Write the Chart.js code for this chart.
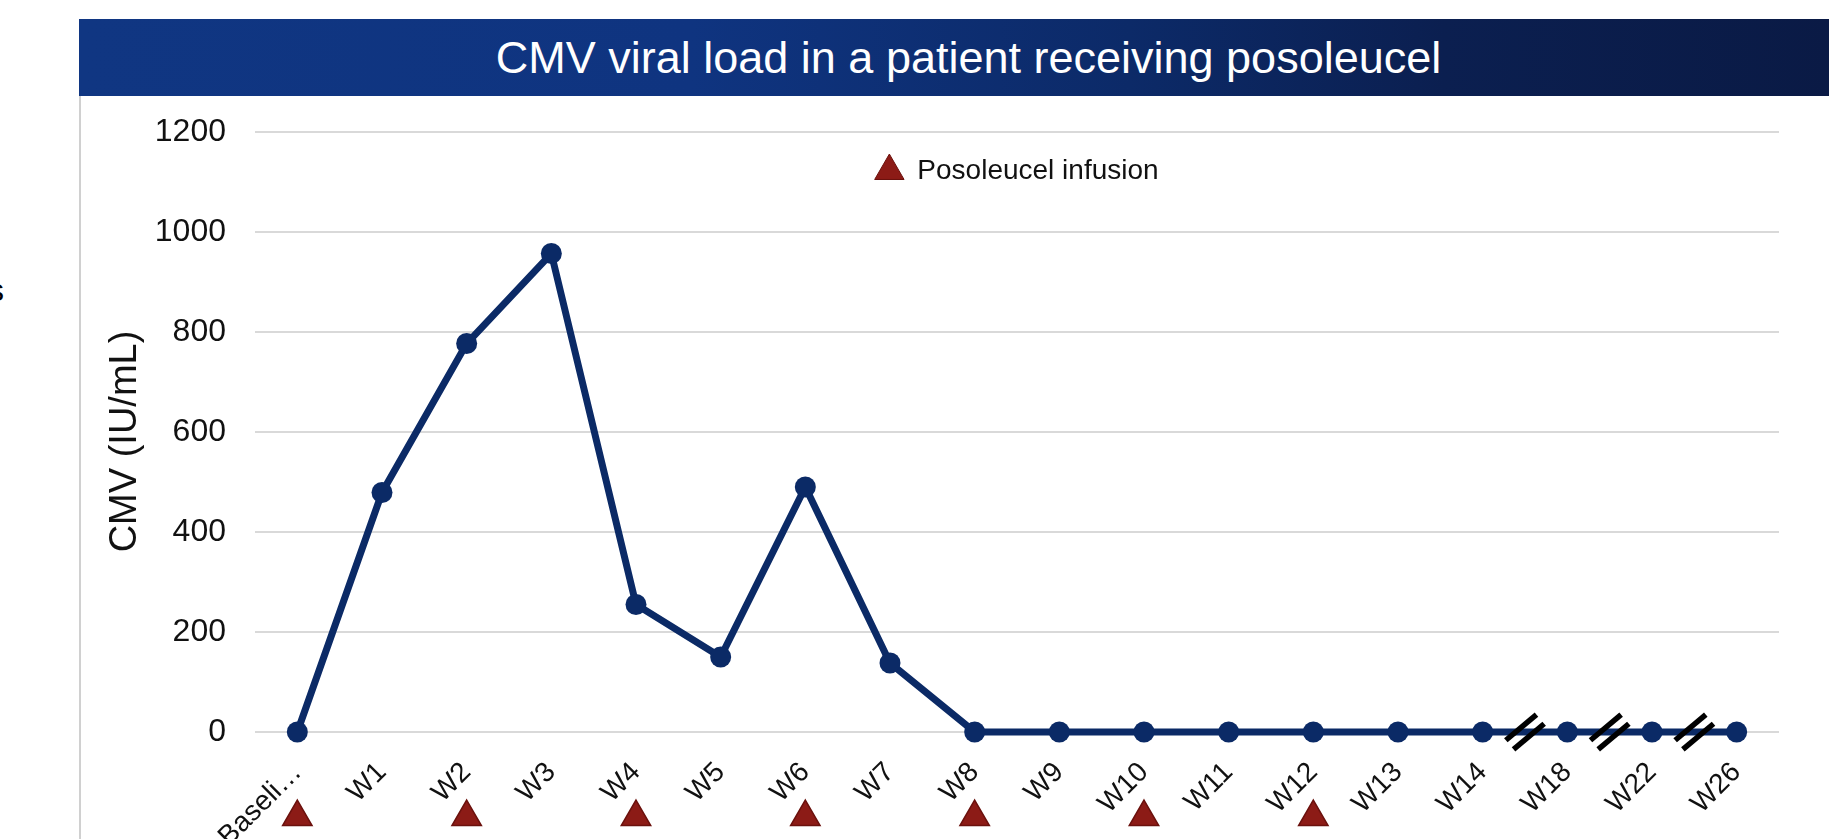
<!DOCTYPE html>
<html>
<head>
<meta charset="utf-8">
<title>CMV viral load</title>
<script src="https://cdn.jsdelivr.net/npm/chart.js@4.4.0/dist/chart.umd.min.js"></script>
<style>
  html, body { margin: 0; padding: 0; background: #fff; }
  body { width: 1829px; height: 839px; position: relative; overflow: hidden; font-family: "Liberation Sans", Arial, sans-serif; }
  #header {
    position: absolute; left: 79px; top: 19px; width: 1750px; height: 77px;
    box-sizing: border-box; padding-left: 29px;
    background: linear-gradient(90deg, #103682 0%, #0f3480 35%, #0c2a68 60%, #0b1f50 78%, #0a1a45 100%);
    color: #fff; font-size: 45px; line-height: 77px; text-align: center;
  }
  #frame { position: absolute; left: 79px; top: 96px; width: 2px; height: 743px; background: #d0d0d0; }
  #cut { position: absolute; left: -12px; top: 272px; font-size: 32px; color: #000; }
  canvas { position: absolute; left: 0; top: 0; }
</style>
</head>
<body>
<div id="header">CMV viral load in a patient receiving posoleucel</div>
<div id="frame"></div>
<div id="cut">s</div>
<canvas id="myChart" width="1829" height="839"></canvas>
<script>
  const weeks = ["Baseline", "W1", "W2", "W3", "W4", "W5", "W6", "W7", "W8", "W9",
    "W10", "W11", "W12", "W13", "W14", "W18", "W22", "W26"];
  const cmvLoad = [0, 479, 777, 957, 255, 150, 490, 138, 0, 0, 0, 0, 0, 0, 0, 0, 0, 0];
  const infusionWeeks = ["Baseline", "W2", "W4", "W6", "W8", "W10", "W12"];
  // axis breaks sit between these weeks and the next one
  const breakAfter = ["W14", "W18", "W22"];

  const lineColor = "#0b2a66";
  const triFill = "#8c1b16";
  const triEdge = "#6b110d";

  function drawTriangle(ctx, cx, cy, r) {
    ctx.beginPath();
    ctx.moveTo(cx, cy - r);
    ctx.lineTo(cx + 0.866 * r, cy + 0.5 * r);
    ctx.lineTo(cx - 0.866 * r, cy + 0.5 * r);
    ctx.closePath();
    ctx.fillStyle = triFill;
    ctx.fill();
    ctx.lineWidth = 1.5;
    ctx.strokeStyle = triEdge;
    ctx.stroke();
  }

  const markers = {
    id: "markers",
    afterLayout(chart) {
      // move the legend inside the plot, centred under the top gridline
      const lg = chart.legend;
      const hb = lg.legendHitBoxes[0];
      const pad = lg.options.labels.padding;
      const area = chart.chartArea;
      const w = lg.right - lg.left, h = lg.bottom - lg.top;
      lg.left = (area.left + area.right) / 2 - hb.width / 2 - pad;
      lg.top = area.top + 39 - hb.height / 2 - pad;
      lg.right = lg.left + w;
      lg.bottom = lg.top + h;
    },
    afterDraw(chart) {
      const { ctx, scales: { x, y } } = chart;
      ctx.save();
      // infusion triangles under the week labels
      infusionWeeks.forEach((w) => {
        const px = x.getPixelForValue(weeks.indexOf(w));
        drawTriangle(ctx, px, x.bottom - 22, 17);
      });
      // double slash breaks on the line
      const dx = Math.cos(40 * Math.PI / 180), dy = -Math.sin(40 * Math.PI / 180);
      ctx.strokeStyle = "#000";
      ctx.lineWidth = 5.5;
      ctx.lineCap = "butt";
      breakAfter.forEach((w) => {
        const i = weeks.indexOf(w);
        const cx = (x.getPixelForValue(i) + x.getPixelForValue(i + 1)) / 2;
        const cy = y.getPixelForValue(0);
        [-6, 6].forEach((o) => {
          const ox = cx + o * -dy, oy = cy + o * dx;
          ctx.beginPath();
          ctx.moveTo(ox - dx * 20, oy - dy * 20);
          ctx.lineTo(ox + dx * 20, oy + dy * 20);
          ctx.stroke();
        });
      });
      ctx.restore();
    }
  };

  Chart.defaults.font.family = "'Liberation Sans', Arial, sans-serif";

  new Chart(document.getElementById("myChart").getContext("2d"), {
    type: "line",
    data: {
      labels: weeks,
      datasets: [
        {
          label: "CMV",
          data: cmvLoad,
          borderColor: lineColor,
          backgroundColor: lineColor,
          borderWidth: 7,
          pointRadius: 10.5,
          pointBorderWidth: 0,
          pointBackgroundColor: lineColor,
          tension: 0,
          clip: false,
        },
      ],
    },
    options: {
      responsive: false,
      animation: false,
      layout: { padding: { left: 0, top: 132, right: 50, bottom: 0 } },
      plugins: {
        tooltip: { enabled: false },
        legend: {
          position: "chartArea",
          align: "start",
          labels: {
            usePointStyle: true,
            boxWidth: 29,
            boxHeight: 24,
            padding: 10,
            color: "#111",
            font: { size: 28 },
            generateLabels: () => [{
              text: "Posoleucel infusion",
              fillStyle: triFill,
              strokeStyle: triEdge,
              lineWidth: 1,
              pointStyle: "triangle",
              hidden: false,
              fontColor: "#111",
            }],
          },
        },
      },
      scales: {
        x: {
          offset: true,
          grid: { display: false },
          border: { display: false },
          ticks: {
            autoSkip: false,
            minRotation: 45,
            maxRotation: 45,
            padding: 16,
            color: "#111",
            font: { size: 28 },
            callback: function (value) {
              const l = this.getLabelForValue(value);
              return l.length > 7 ? l.slice(0, 6) + "\u2026" : l;
            },
          },
          afterFit(scale) { scale.height = 107; },
        },
        y: {
          min: 0,
          max: 1200,
          ticks: { stepSize: 200, padding: 29, color: "#111", font: { size: 32 }, callback: (v) => v },
          grid: { color: "#d9d9d9", lineWidth: 2, drawTicks: false },
          border: { display: false },
          title: {
            display: true,
            text: "CMV (IU/mL)\u2002",
            color: "#111",
            font: { size: 38 },
            padding: { top: 103, bottom: 0 },
          },
          afterFit(scale) { scale.width = 255; },
        },
      },
    },
    plugins: [markers],
  });
</script>
</body>
</html>
